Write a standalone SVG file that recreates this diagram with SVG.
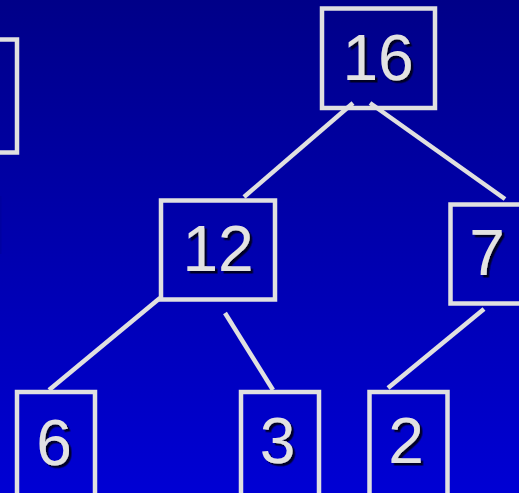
<svg xmlns="http://www.w3.org/2000/svg" width="519" height="493" viewBox="0 0 519 493">
  <defs>
    <linearGradient id="bg" x1="0" y1="0" x2="0" y2="1">
      <stop offset="0" stop-color="#000088"/>
      <stop offset="1" stop-color="#0000D4"/>
    </linearGradient>
    <filter id="sh" x="-20%" y="-20%" width="150%" height="150%">
      <feDropShadow dx="2.5" dy="2.5" stdDeviation="0.6" flood-color="#000018" flood-opacity="0.9"/>
    </filter>
  </defs>
  <style>
    .box { fill: none; stroke: #E0E0E0; stroke-width: 4.5; }
    .edge { stroke: #E0E0E0; stroke-width: 4.5; fill: none; }
    .lbl { font-family: "Liberation Sans", Arial, sans-serif; font-size: 64px; fill: #E2E2E2; text-anchor: middle; filter: url(#sh); }
  </style>
  <rect x="0" y="0" width="519" height="493" fill="url(#bg)"/>
  <rect x="0" y="196" width="1.5" height="58" fill="#00009A" opacity="0.6"/>

  <g id="connectors">
    <line class="edge" x1="353" y1="103" x2="244" y2="197"/>
    <line class="edge" x1="370" y1="103" x2="505" y2="199"/>
    <line class="edge" x1="160" y1="298" x2="49" y2="390"/>
    <line class="edge" x1="225" y1="313" x2="273" y2="390"/>
    <line class="edge" x1="484" y1="309" x2="388" y2="388"/>
  </g>

  <g id="node-left">
    <rect class="box" x="-40" y="39.5" width="57" height="113"/>
  </g>
  <g id="node-16">
    <rect class="box" x="322" y="8.5" width="113" height="99.5"/>
    <text class="lbl" x="378" y="80">16</text>
  </g>
  <g id="node-12">
    <rect class="box" x="161" y="200.5" width="114" height="99"/>
    <text class="lbl" x="218" y="271">12</text>
  </g>
  <g id="node-7">
    <rect class="box" x="450.5" y="204.5" width="120" height="99"/>
    <text class="lbl" x="487" y="275">7</text>
  </g>
  <g id="node-6">
    <rect class="box" x="17" y="392" width="78" height="120"/>
    <text class="lbl" x="54" y="465">6</text>
  </g>
  <g id="node-3">
    <rect class="box" x="241" y="392" width="78" height="120"/>
    <text class="lbl" x="277.5" y="463">3</text>
  </g>
  <g id="node-2">
    <rect class="box" x="369.5" y="392" width="78" height="120"/>
    <text class="lbl" x="406" y="463">2</text>
  </g>
</svg>
